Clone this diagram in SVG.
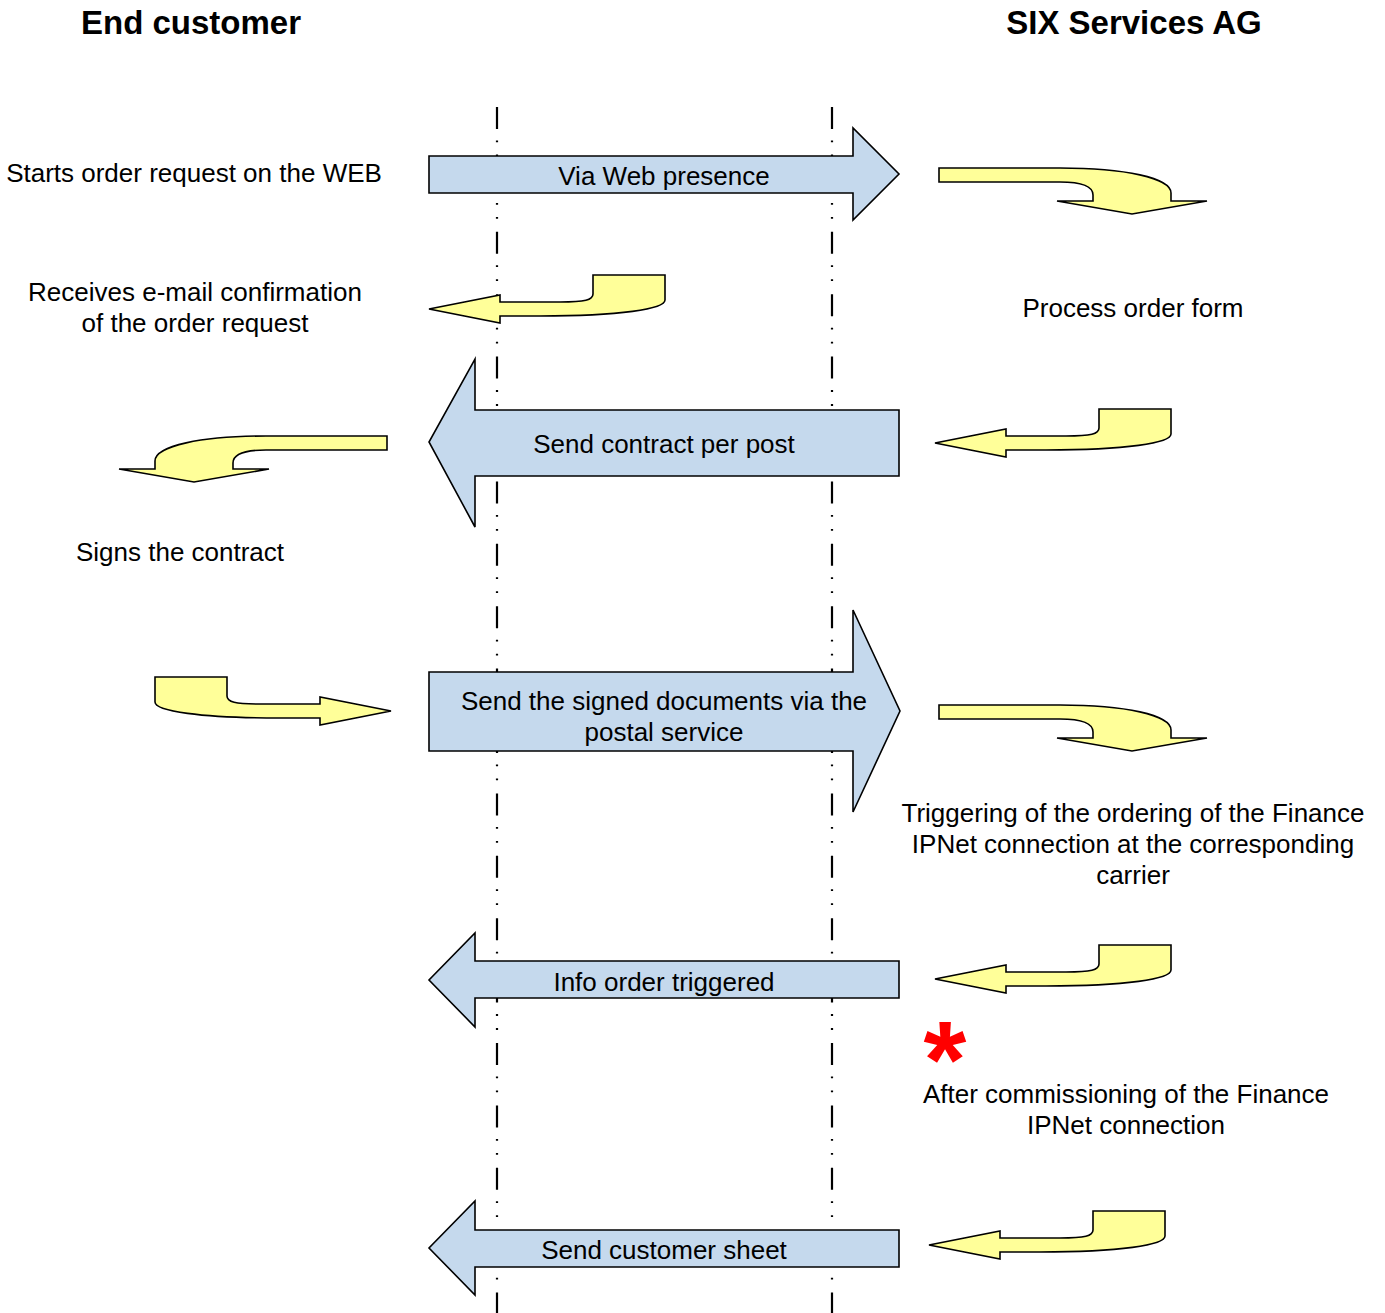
<svg xmlns="http://www.w3.org/2000/svg" xmlns:xlink="http://www.w3.org/1999/xlink" width="1385" height="1313" viewBox="0 0 1385 1313">
<style>
.t{font-family:"Liberation Sans",Arial,sans-serif;font-size:26px;fill:#000;text-anchor:middle}
.h{font-family:"Liberation Sans",Arial,sans-serif;font-size:33px;font-weight:bold;fill:#000;text-anchor:middle}
.blue{fill:#C5D9ED;stroke:#000;stroke-width:1.6;stroke-linejoin:miter}
.yel{fill:#FFFF99;stroke:#000;stroke-width:1.6;stroke-linejoin:miter}
.life{stroke:#000;stroke-width:2.2;fill:none;stroke-dasharray:22 11.5 1.8 12.2 1.8 13.1}
</style>
<defs>
<path id="ydown" d="M939,168 L1060,168 C1125,168 1171,178 1171,193 L1171,201 L1207,201 L1132,214 L1057,201 L1093,201 L1093,195 C1093,186 1082,182 1060,182 L939,182 Z"/>
<path id="yleft" d="M429,309 L500,295 L500,302 L560,302 C585,302 593,300 593,294 L593,275 L665,275 L665,300 C665,309 620,316 540,316 L500,316 L500,323 Z"/>
</defs>

<g id="lifelines">
<line class="life" x1="497" y1="107" x2="497" y2="1313"/>
<line class="life" x1="832" y1="107" x2="832" y2="1313"/>
</g>

<g id="headers">
<text id="h-customer" class="h" x="191" y="34">End customer</text>
<text id="h-six" class="h" x="1134" y="34">SIX Services AG</text>
</g>

<g id="connectors">
<g id="msg-web">
<path class="blue" d="M429,156 L853,156 L853,128 L899,174 L853,220 L853,193 L429,193 Z"/>
<text class="t" x="664" y="185">Via Web presence</text>
</g>
<g id="msg-contract">
<path class="blue" d="M899,410 L475,410 L475,359 L429,442 L475,527 L475,476 L899,476 Z"/>
<text class="t" x="664" y="453">Send contract per post</text>
</g>
<g id="msg-signed">
<path class="blue" d="M429,672 L853,672 L853,610 L900,711 L853,812 L853,751 L429,751 Z"/>
<text class="t" x="664" y="710">Send the signed documents via the</text>
<text class="t" x="664" y="741">postal service</text>
</g>
<g id="msg-info">
<path class="blue" d="M899,961 L475,961 L475,933 L429,980 L475,1027 L475,998 L899,998 Z"/>
<text class="t" x="664" y="991">Info order triggered</text>
</g>
<g id="msg-sheet">
<path class="blue" d="M899,1230 L475,1230 L475,1201 L429,1248 L475,1295 L475,1267 L899,1267 Z"/>
<text class="t" x="664" y="1259">Send customer sheet</text>
</g>

<g id="yellow-arrows">
<use class="yel" xlink:href="#ydown"/>
<use class="yel" xlink:href="#yleft"/>
<use class="yel" xlink:href="#yleft" transform="translate(506,134)"/>
<use class="yel" xlink:href="#ydown" transform="translate(1326,268) scale(-1,1)"/>
<use class="yel" xlink:href="#yleft" transform="translate(820,402) scale(-1,1)"/>
<use class="yel" xlink:href="#ydown" transform="translate(0,537)"/>
<use class="yel" xlink:href="#yleft" transform="translate(506,670)"/>
<use class="yel" xlink:href="#yleft" transform="translate(500,936)"/>
</g>
</g>

<g id="step-start"><text class="t" x="194" y="182">Starts order request on the WEB</text></g>
<g id="step-receive">
<text class="t" x="195" y="301">Receives e-mail confirmation</text>
<text class="t" x="195" y="332">of the order request</text>
</g>
<g id="step-process"><text class="t" x="1133" y="317">Process order form</text></g>
<g id="step-sign"><text class="t" x="180" y="561">Signs the contract</text></g>
<g id="step-trigger">
<text class="t" x="1133" y="822">Triggering of the ordering of the Finance</text>
<text class="t" x="1133" y="853">IPNet connection at the corresponding</text>
<text class="t" x="1133" y="884">carrier</text>
</g>
<g id="asterisk"><text x="945" y="1097" style="font-family:'Liberation Sans',Arial,sans-serif;font-size:110px;font-weight:bold;fill:#FF0000;text-anchor:middle">*</text></g>
<g id="step-commission">
<text class="t" x="1126" y="1103">After commissioning of the Finance</text>
<text class="t" x="1126" y="1134">IPNet connection</text>
</g>
</svg>
